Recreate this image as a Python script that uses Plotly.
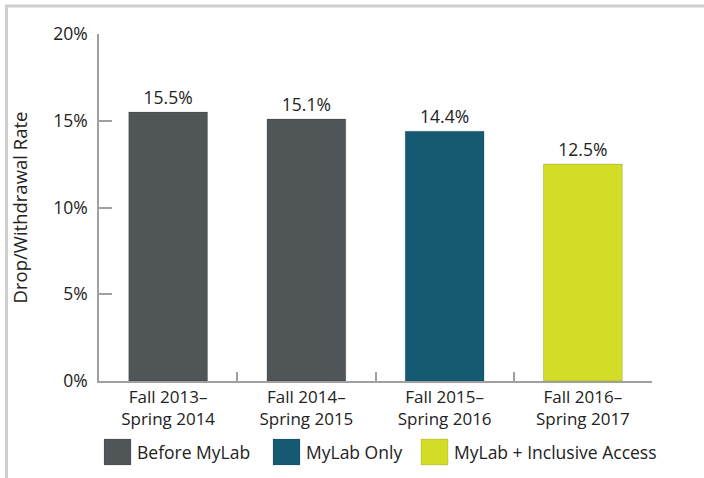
import plotly.graph_objects as go

categories = ["Fall 2013–<br>Spring 2014", "Fall 2014–<br>Spring 2015",
              "Fall 2015–<br>Spring 2016", "Fall 2016–<br>Spring 2017"]
rates = [15.5, 15.1, 14.4, 12.5]
groups = ["Before MyLab", "Before MyLab", "MyLab Only", "MyLab + Inclusive Access"]
legend_names = ["Before MyLab", "MyLab Only", "MyLab + Inclusive Access"]
colors = {"Before MyLab": "#505558", "MyLab Only": "#155a72",
          "MyLab + Inclusive Access": "#d3dd25"}
y_ticks = [0, 5, 10, 15, 20]
y_tick_labels = ["0%", "5%", "10%", "15%", "20%"]

W, H = 704, 478
L, R, T, B = 99, 52, 34, 97
pw, ph = W - L - R, H - T - B

def px(x):
    return (x - L) / pw

def py(y):
    return (H - B - y) / ph

FONT = "Open Sans"
TXT = "#222222"
FS = 17.5

fig = go.Figure()
fig.add_trace(go.Bar(
    x=categories, y=rates,
    marker=dict(color=[colors[g] for g in groups],
                line=dict(color="rgba(0,0,0,0.15)", width=1)),
    width=0.57,
    text=[f"{v:.1f}%" for v in rates],
    textposition="outside",
    textfont=dict(family=FONT, size=FS, color=TXT),
    cliponaxis=False,
    showlegend=False,
    hoverinfo="skip",
))

fig.update_layout(
    width=W, height=H,
    margin=dict(l=L, r=R, t=T, b=B),
    paper_bgcolor="white", plot_bgcolor="white",
    font=dict(family=FONT, size=FS, color=TXT),
    xaxis=dict(
        showline=True, linecolor="#a0a0a0", linewidth=1.5,
        ticks="inside", ticklen=9, tickcolor="#a0a0a0", tickwidth=1.5,
        tickson="boundaries",
        showgrid=False, zeroline=False,
        tickfont=dict(family=FONT, size=17, color=TXT),
    ),
    yaxis=dict(
        range=[0, 20], tickvals=y_ticks, ticktext=y_tick_labels,
        showline=True, linecolor="#a0a0a0", linewidth=1.5,
        ticks="inside", ticklen=13, tickcolor="#a0a0a0", tickwidth=1.5,
        showgrid=False, zeroline=False,
        ticklabelstandoff=6,
        tickfont=dict(family=FONT, size=FS, color=TXT),
        title=dict(text="Drop/Withdrawal Rate", standoff=21,
                   font=dict(family=FONT, size=18.5, color=TXT)),
    ),
)

# frame lines (top and left)
fig.add_shape(type="line", xref="paper", yref="paper",
              x0=px(5), x1=px(W + 5), y0=py(6), y1=py(6),
              line=dict(color="#d0d0d0", width=3))
fig.add_shape(type="line", xref="paper", yref="paper",
              x0=px(6.5), x1=px(6.5), y0=py(5), y1=py(H + 5),
              line=dict(color="#d0d0d0", width=3))

# custom legend with large swatches
legend_boxes = [(104, 131), (273, 300), (421, 448)]
for name, (bx0, bx1) in zip(legend_names, legend_boxes):
    fig.add_shape(type="rect", xref="paper", yref="paper",
                  x0=px(bx0), x1=px(bx1), y0=py(465), y1=py(439),
                  fillcolor=colors[name], line=dict(color="rgba(0,0,0,0.12)", width=1))
    fig.add_annotation(xref="paper", yref="paper", x=px(bx1 + 4), y=py(452),
                       text=name, showarrow=False, xanchor="left", yanchor="middle",
                       font=dict(family=FONT, size=FS, color=TXT))

fig.write_html("out.html", config={"displayModeBar": False},
               post_script="document.body.style.margin='0';document.body.style.overflow='hidden';")
